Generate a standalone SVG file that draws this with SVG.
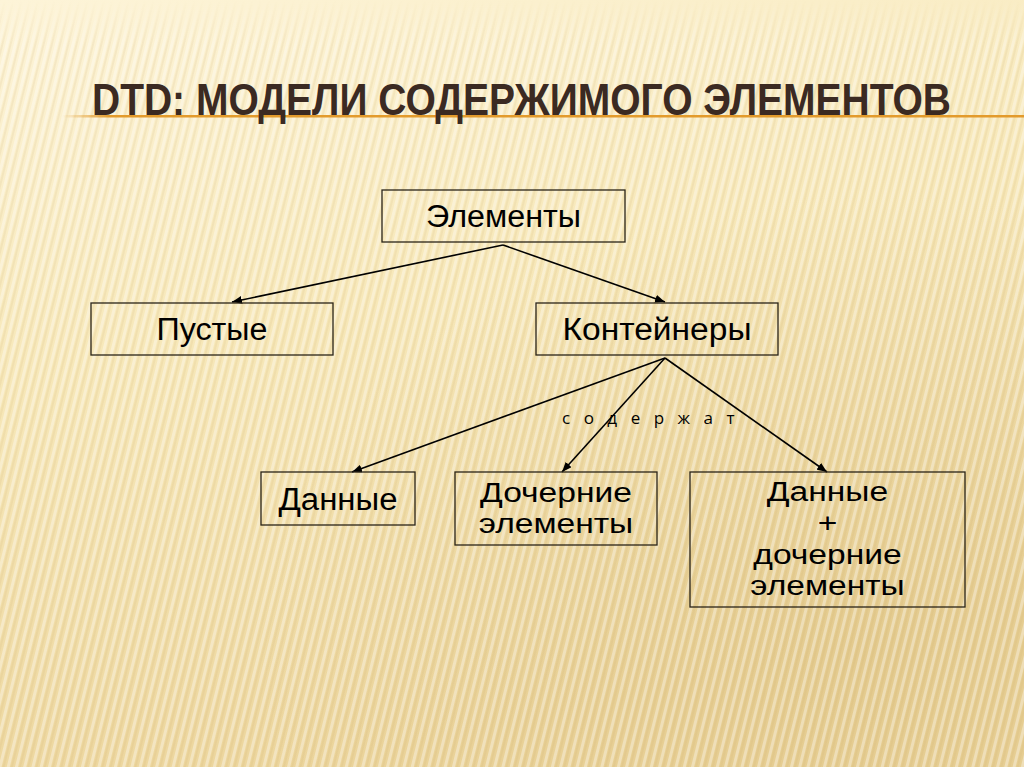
<svg xmlns="http://www.w3.org/2000/svg" width="1024" height="767" viewBox="0 0 1024 767">
  <defs>
    <linearGradient id="bg" x1="0" y1="0" x2="0.3" y2="1">
      <stop offset="0" stop-color="#fdf4d8"/>
      <stop offset="0.45" stop-color="#f7e8b9"/>
      <stop offset="1" stop-color="#ecd59c"/>
    </linearGradient>
    <radialGradient id="warm" cx="0.85" cy="0.85" r="0.6">
      <stop offset="0" stop-color="#d9bd7c" stop-opacity="0.45"/>
      <stop offset="1" stop-color="#d9bd7c" stop-opacity="0"/>
    </radialGradient>
    <pattern id="stripes" width="8" height="40" patternUnits="userSpaceOnUse" patternTransform="rotate(14)">
      <rect x="0" y="0" width="3" height="40" fill="#ffffff" fill-opacity="0.35"/>
      <rect x="4" y="0" width="2" height="40" fill="#c9a860" fill-opacity="0.12"/>
    </pattern>
    <linearGradient id="stripeFade" x1="0" y1="0" x2="0" y2="1">
      <stop offset="0" stop-color="#fff" stop-opacity="0"/>
      <stop offset="0.06" stop-color="#fff" stop-opacity="1"/>
      <stop offset="1" stop-color="#fff" stop-opacity="1"/>
    </linearGradient>
    <mask id="stripeMask">
      <rect x="0" y="0" width="1024" height="767" fill="url(#stripeFade)"/>
    </mask>
    <linearGradient id="rule" x1="0" y1="0" x2="1" y2="0">
      <stop offset="0" stop-color="#e39b2c" stop-opacity="0"/>
      <stop offset="0.05" stop-color="#e39b2c" stop-opacity="1"/>
      <stop offset="1" stop-color="#e39b2c" stop-opacity="1"/>
    </linearGradient>
    <marker id="arrow" viewBox="0 0 10 8" refX="10" refY="4" markerWidth="10" markerHeight="8" markerUnits="userSpaceOnUse" orient="auto">
      <path d="M0,0 L10,4 L0,8 Z" fill="#000"/>
    </marker>
  </defs>
  <style>
    .box { fill: none; stroke: #2a2418; stroke-width: 1.3; }
    .lbl { font-family: "Liberation Sans", Arial, sans-serif; font-size: 31px; fill: #000; text-anchor: middle; }
    .ml { font-size: 28px; }
    .conn line { stroke: #000; stroke-width: 1.6; marker-end: url(#arrow); }
    .title { font-family: "Liberation Sans", Arial, sans-serif; font-weight: bold; font-size: 39px; fill: #3b2a22; }
    .note { font-family: "Open Sans", "DejaVu Sans", sans-serif; font-size: 17px; fill: #000; letter-spacing: 13.5px; }
  </style>

  <!-- background -->
  <rect x="0" y="0" width="1024" height="767" fill="url(#bg)"/>
  <rect x="0" y="0" width="1024" height="767" fill="url(#warm)"/>
  <rect x="0" y="0" width="1024" height="767" fill="url(#stripes)" mask="url(#stripeMask)"/>

  <!-- title -->
  <g id="title">
    <rect x="62" y="115" width="962" height="2.5" fill="url(#rule)"/>
    <text class="title" x="92" y="0" textLength="859" lengthAdjust="spacingAndGlyphs" transform="translate(0,115) scale(1,1.15)">DTD: МОДЕЛИ СОДЕРЖИМОГО ЭЛЕМЕНТОВ</text>
  </g>

  <!-- connectors -->
  <g id="connectors" class="conn">
    <line x1="503" y1="245" x2="232" y2="302"/>
    <line x1="503" y1="245" x2="665" y2="302"/>
    <line x1="665" y1="358" x2="352" y2="472"/>
    <line x1="665" y1="358" x2="562" y2="472"/>
    <line x1="665" y1="358" x2="827" y2="472"/>
  </g>
  <text class="note" x="562" y="424">содержат</text>

  <!-- nodes -->
  <g id="node-elements">
    <rect class="box" x="382" y="190" width="243" height="52"/>
    <text class="lbl" x="503.5" y="227" textLength="155" lengthAdjust="spacingAndGlyphs">Элементы</text>
  </g>
  <g id="node-empty">
    <rect class="box" x="91" y="303" width="242" height="52"/>
    <text class="lbl" x="212" y="340" textLength="111" lengthAdjust="spacingAndGlyphs">Пустые</text>
  </g>
  <g id="node-containers">
    <rect class="box" x="536" y="303" width="242" height="52"/>
    <text class="lbl" x="657" y="340" textLength="189" lengthAdjust="spacingAndGlyphs">Контейнеры</text>
  </g>
  <g id="node-data">
    <rect class="box" x="261" y="472" width="154" height="53"/>
    <text class="lbl" x="338" y="510" textLength="119" lengthAdjust="spacingAndGlyphs">Данные</text>
  </g>
  <g id="node-children">
    <rect class="box" x="455" y="472" width="202" height="73"/>
    <text class="lbl ml" x="556" y="502" transform="translate(556,0) scale(1.2,1) translate(-556,0)">Дочерние<tspan x="556" dy="31.5">элементы</tspan></text>
  </g>
  <g id="node-mixed">
    <rect class="box" x="690" y="472" width="275" height="135"/>
    <text class="lbl ml" x="827.5" y="501" transform="translate(827.5,0) scale(1.2,1) translate(-827.5,0)">Данные<tspan x="827.5" dy="31.5">+</tspan><tspan x="827.5" dy="31.5">дочерние</tspan><tspan x="827.5" dy="31.5">элементы</tspan></text>
  </g>
</svg>
